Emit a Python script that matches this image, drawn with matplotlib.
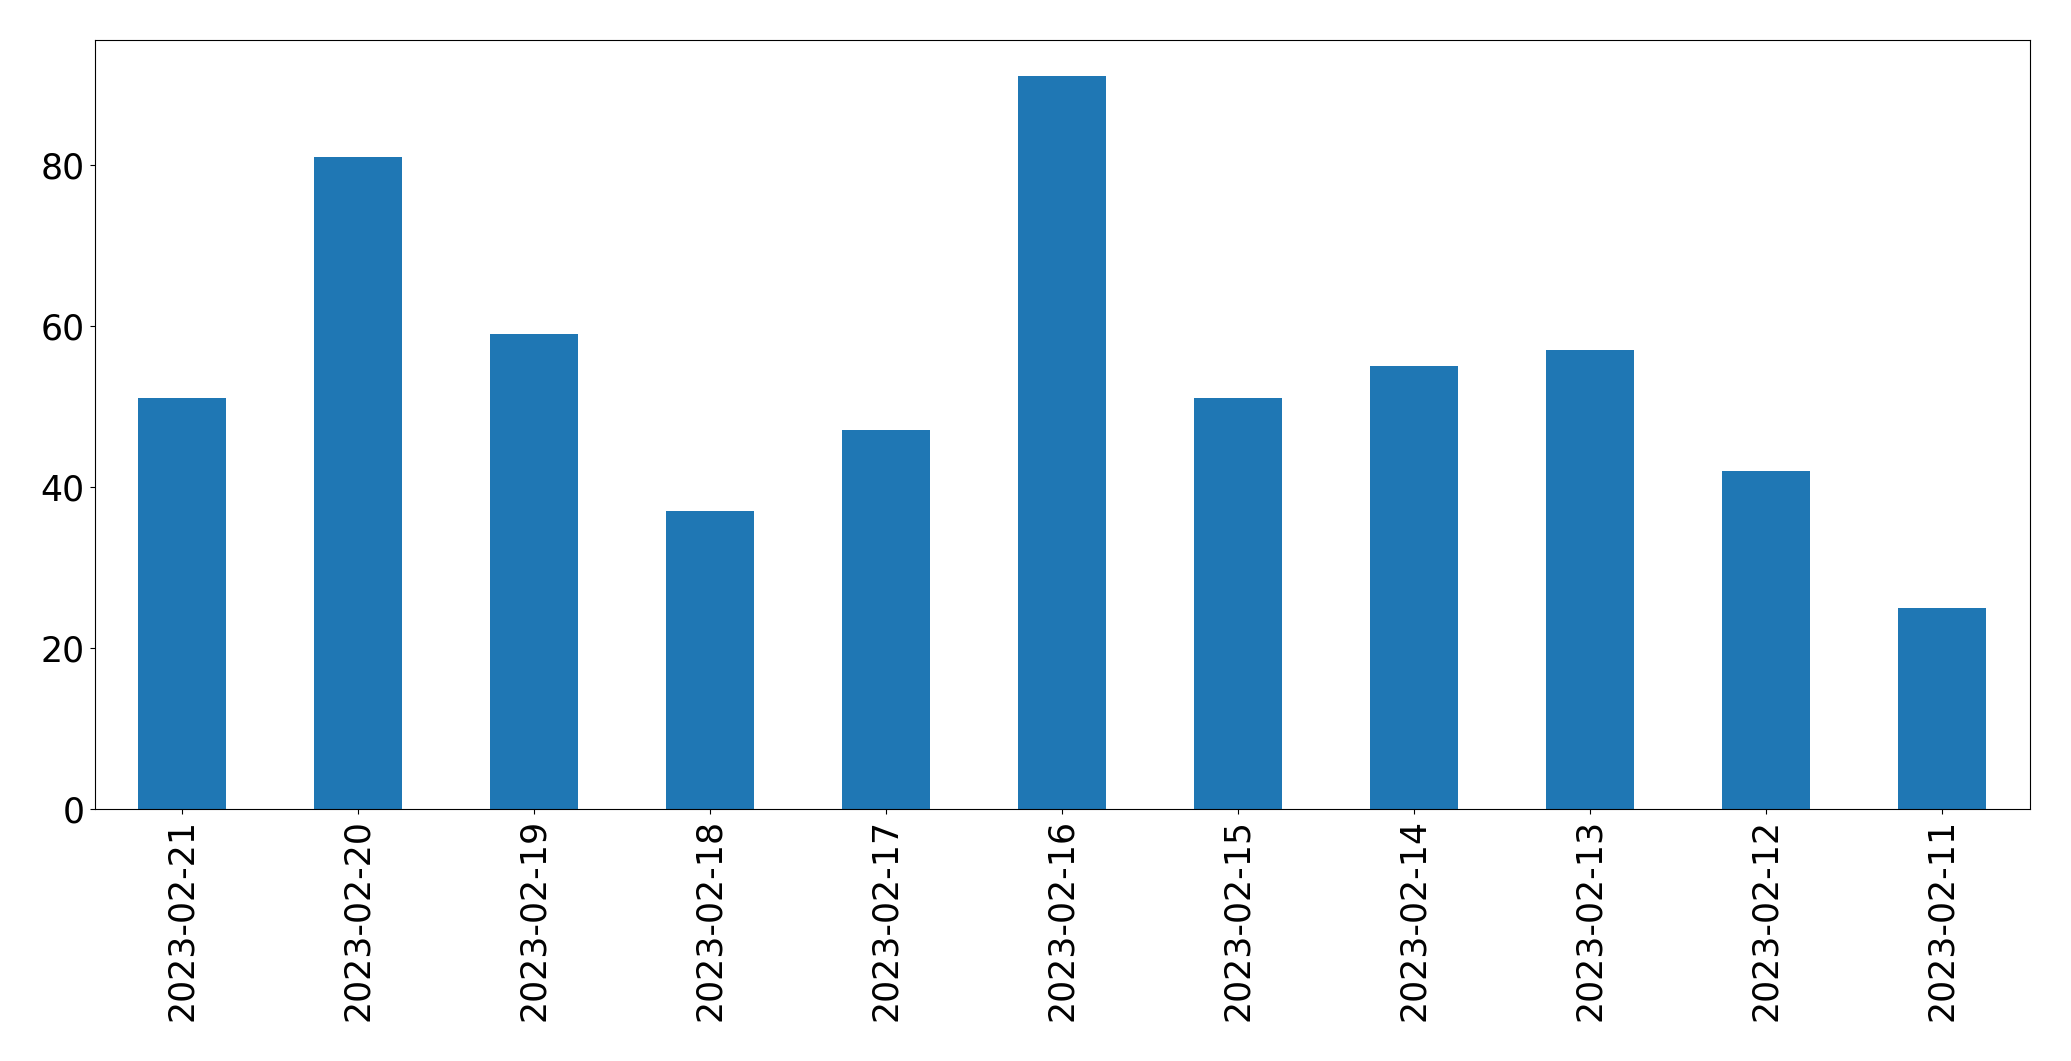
import matplotlib
matplotlib.use("Agg")
import matplotlib.pyplot as plt

dates = ["2023-02-21", "2023-02-20", "2023-02-19", "2023-02-18", "2023-02-17",
         "2023-02-16", "2023-02-15", "2023-02-14", "2023-02-13", "2023-02-12",
         "2023-02-11"]
counts = [51, 81, 59, 37, 47, 91, 51, 55, 57, 42, 25]

fig = plt.figure(figsize=(20.71, 10.61), dpi=100)
ax = fig.add_axes([94.5 / 2071, (1061 - 809) / 1061, (2030 - 94.5) / 2071, (809 - 39.5) / 1061])
x = list(range(len(dates)))
ax.bar(x, counts, width=0.5, color="#1f77b4")
ax.set_xlim(-0.5, len(dates) - 0.5)
ax.set_ylim(0, max(counts) * 1.05)
ax.set_xticks(x)
ax.set_xticklabels(dates, rotation=90)
ax.set_yticks([0, 20, 40, 60, 80])
ax.tick_params(axis="both", labelsize=25)
fig.canvas.draw()
w, h = fig.canvas.get_width_height()
if h != 1061:
    fig.set_size_inches(20.71, 10.6105)
fig.savefig("out.png", dpi=100)
